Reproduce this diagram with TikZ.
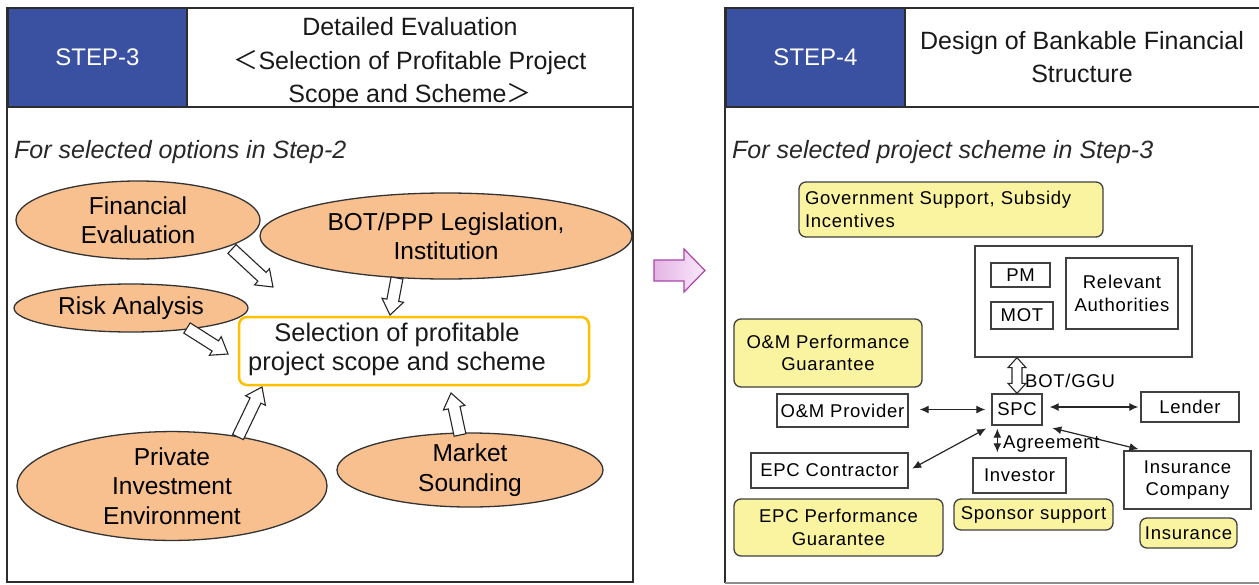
\documentclass[tikz,border=0pt]{standalone}
\usepackage{fontspec}
\setmainfont{Liberation Sans}
\newfontfamily\cjk{Noto Sans CJK JP}
\newfontfamily\smallfont[LetterSpace=4]{Liberation Sans}
\usetikzlibrary{shapes.geometric,calc,arrows.meta}
\definecolor{stepblue}{RGB}{58,81,162}
\definecolor{ellfill}{RGB}{248,192,143}
\definecolor{selorange}{RGB}{255,192,0}
\definecolor{yel}{RGB}{250,243,160}
\definecolor{framecol}{RGB}{45,45,45}
\definecolor{pinkL}{RGB}{228,180,228}
\definecolor{pinkR}{RGB}{250,232,250}
\definecolor{pinkline}{RGB}{170,70,170}
\definecolor{subtxt}{RGB}{40,40,40}
\newcommand\harrow[2]{%
  \coordinate (hb) at ($(#2)!15pt!(#1)$);
  \draw[hollow] ($(#1)!6pt!90:(#2)$) -- ($(hb)!6pt!90:(#2)$) -- ($(hb)!11pt!90:(#2)$) -- (#2)
    -- ($(hb)!11pt!-90:(#2)$) -- ($(hb)!6pt!-90:(#2)$) -- ($(#1)!6pt!-90:(#2)$) -- cycle;}
\begin{document}
\begin{tikzpicture}[x=1pt,y=-1pt,
  frameline/.style={draw=framecol,line width=1.4pt},
  stepbox/.style={fill=stepblue,draw=framecol,line width=1.4pt,text=white,inner sep=0,
    font=\fontsize{24}{28}\selectfont},
  headtxt/.style={align=center,font=\fontsize{25}{33.5}\selectfont,text=black!90},
  subhead/.style={anchor=west,font=\itshape\fontsize{25}{30}\selectfont,text=subtxt,inner sep=0},
  ell/.style={ellipse,draw=black!80,fill=ellfill,line width=1.3pt,inner sep=0,align=center,
    font=\fontsize{24.5}{29.5}\selectfont},
  hollow/.style={draw=black!85,fill=white,line width=1.1pt,line join=miter},
  sbox/.style={draw=black!75,line width=1.3pt,fill=white,align=center,inner sep=0,
    font=\smallfont\fontsize{18.5}{22.5}\selectfont},
  ybox/.style={sbox,fill=yel,rounded corners=7pt},
  conn/.style={{Latex[length=9pt,width=8pt]}-{Latex[length=9pt,width=8pt]},line width=1.2pt,black!85},
  lbl/.style={anchor=west,inner sep=0,font=\smallfont\fontsize{18.5}{22}\selectfont}]
\useasboundingbox (0,0) rectangle (1259,584);
\fill[white] (0,0) rectangle (1259,584);

% ---------------- left panel ----------------
\draw[frameline] (7,8) rectangle (633,582);
\node[stepbox,minimum width=179,minimum height=99] (s3) at (97.5,57.5) {STEP-3};
\draw[framecol,line width=2pt] (7,107) -- (633,107);
\node[headtxt] (h3) at (410,63) {Detailed Evaluation\\{\cjk ＜}Selection of Profitable Project\\Scope and Scheme{\cjk ＞}};
\node[subhead] (f3) at (14,152) {For selected options in Step-2};

\node[ell,minimum width=244,minimum height=78] (fe) at (138,220) {Financial\\Evaluation};
\node[ell,minimum width=372,minimum height=86] (bot) at (446,236) {BOT/PPP Legislation,\\Institution};
\node[ell,minimum width=234,minimum height=48] (ra) at (131,308) {Risk Analysis};
\node[ell,minimum width=310,minimum height=104] (pie) at (172,486) {Private\\Investment\\Environment};
\node[ell,minimum width=266,minimum height=70] (ms) at (470,470) {Market\\Sounding};

\node[draw=selorange,line width=2.5pt,rounded corners=8pt,fill=white,minimum width=350,minimum height=68,inner sep=0] (sel) at (414,351) {};
\node[align=center,font=\fontsize{25.5}{29}\selectfont,text=black!90,inner sep=0] (selt) at ($(sel.center)+(-17,-2)$) {Selection of profitable\\project scope and scheme};

\coordinate (a1t) at (232,249); \coordinate (a1h) at (273,287);
\coordinate (a2t) at (397,278); \coordinate (a2h) at (390,315);
\coordinate (a3t) at (187,328); \coordinate (a3h) at (228,354);
\coordinate (a4t) at (238,437); \coordinate (a4h) at (262,387);
\coordinate (a5t) at (460,435); \coordinate (a5h) at (451,393);
\harrow{a1t}{a1h}
\harrow{a2t}{a2h}
\harrow{a3t}{a3h}
\harrow{a4t}{a4h}
\harrow{a5t}{a5h}

% ---------------- middle arrow ----------------
\shade[left color=pinkL,right color=pinkR,draw=pinkline,line width=1.2pt,line join=miter]
  (654,260) -- (684,260) -- (684,249) -- (705,270.5) -- (684,292) -- (684,281) -- (654,281) -- cycle;

% ---------------- right panel ----------------
\draw[frameline] (1265,8) -- (725,8) -- (725,583);
\draw[black!45,line width=1.2pt] (725,583) -- (1265,583);
\node[stepbox,minimum width=179,minimum height=99] (s4) at (815.5,57.5) {STEP-4};
\draw[framecol,line width=2pt] (725,107) -- (1265,107);
\node[headtxt] (h4) at (1082,57) {Design of Bankable Financial\\Structure};
\node[subhead] (f4) at (732,152) {For selected project scheme in Step-3};

\node[ybox,align=left,text width=292,inner xsep=6pt,minimum height=55] (gov) at (951,209.5) {Government Support, Subsidy\\Incentives};

\node[sbox,minimum width=217,minimum height=111] (auth) at (1083.5,301.5) {};
\node[sbox,minimum width=59,minimum height=24] (pm) at (1020.5,275) {PM};
\node[sbox,minimum width=62,minimum height=27] (mot) at (1022,315.5) {MOT};
\node[sbox,minimum width=112,minimum height=71] (rel) at (1122,293.5) {Relevant\\Authorities};

\node[ybox,minimum width=188,minimum height=68] (omg) at (828,353) {O\&M Performance\\Guarantee};
\node[sbox,minimum width=131,minimum height=33] (omp) at (842.5,410.5) {O\&M Provider};
\node[sbox,minimum width=50,minimum height=31] (spc) at (1017,409.5) {SPC};
\node[sbox,minimum width=98,minimum height=30] (len) at (1190,407) {Lender};
\node[sbox,minimum width=157,minimum height=35] (epc) at (829.5,470.5) {EPC Contractor};
\node[sbox,minimum width=93,minimum height=35] (inv) at (1019.5,475.5) {Investor};
\node[sbox,minimum width=127,minimum height=58] (insc) at (1187.5,480) {Insurance\\Company};
\node[ybox,minimum width=209,minimum height=57] (epg) at (838.5,527.5) {EPC Performance\\Guarantee};
\node[ybox,minimum width=159,minimum height=31] (spo) at (1033.5,514.5) {Sponsor support};
\node[ybox,minimum width=97,minimum height=30] (ins) at (1188.5,533) {Insurance};

% block double arrow authorities <-> SPC
\coordinate (dA) at (spc.north |- auth.south);
\coordinate (dB) at (spc.north);
\draw[hollow] (dA) -- ($(dA)+(9,10)$) -- ($(dA)+(5,10)$) -- ($(dB)+(5,-10)$) -- ($(dB)+(9,-10)$) -- (dB)
  -- ($(dB)+(-9,-10)$) -- ($(dB)+(-5,-10)$) -- ($(dA)+(-5,10)$) -- ($(dA)+(-9,10)$) -- cycle;
\node[lbl] (botg) at (1025,381) {BOT/GGU};

% thin connectors
\draw[conn,shorten <=11pt,shorten >=6pt] (omp.east |- spc.west) -- (spc.west);
\draw[conn,shorten <=7pt,shorten >=2pt] (spc.east |- len.west) -- (len.west);
\draw[conn,shorten <=4pt,shorten >=6pt] (epc.east) -- (spc.south west);
\coordinate (sv) at ([xshift=6pt]spc.south west);
\draw[conn,shorten <=3pt,shorten >=5pt] (sv) -- (sv |- inv.north);
\draw[conn,shorten <=10pt,shorten >=5pt] (spc.south east) -- ([xshift=20pt]insc.north west);
\node[lbl] (agr) at (1003,444) {Agreement};
\end{tikzpicture}
\end{document}
